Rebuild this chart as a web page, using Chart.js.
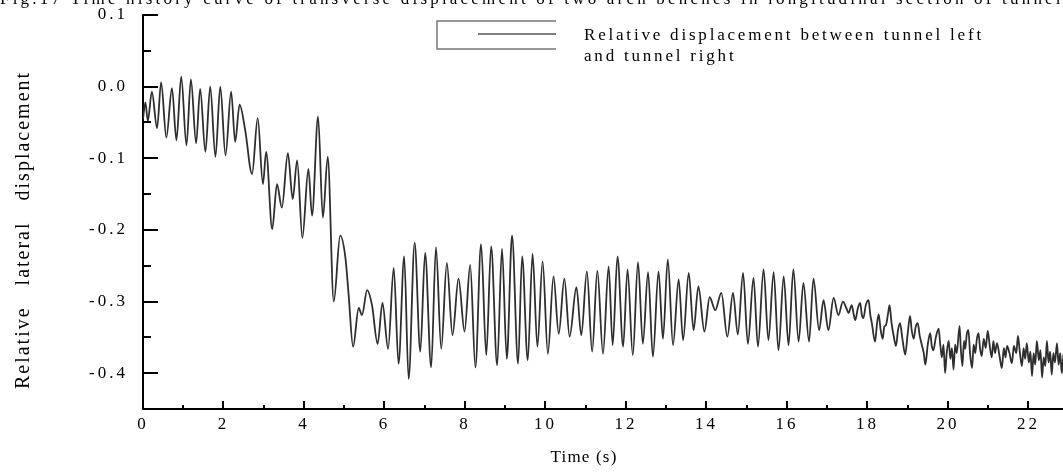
<!DOCTYPE html>
<html>
<head>
<meta charset="utf-8">
<script src="https://cdn.jsdelivr.net/npm/chart.js@4/dist/chart.umd.min.js"></script>
<style>
  body { margin: 0; background: #fff; }
  #wrap { width: 1063px; height: 473px; }
</style>
</head>
<body>
<div id="wrap"><canvas id="dispChart" width="1063" height="473"></canvas></div>
<script>
// time (s) and relative lateral displacement
const timeS = [
  0, 0.06, 0.12, 0.22, 0.35, 0.45, 0.58, 0.72, 0.83, 0.95, 1.08, 1.19, 1.32, 1.42, 1.55, 1.67, 1.80, 1.92,
  2.05, 2.19, 2.29, 2.40, 2.54, 2.71, 2.85, 2.98, 3.06, 3.21, 3.33, 3.45, 3.60, 3.72, 3.83, 3.96, 4.11, 4.20,
  4.35, 4.47, 4.59, 4.74, 4.90, 5.03, 5.11, 5.22, 5.36, 5.44, 5.57, 5.69, 5.83,
  5.95, 6.09, 6.23, 6.35, 6.49, 6.60, 6.75, 6.89, 7.01, 7.16, 7.28, 7.41, 7.55, 7.69, 7.84, 7.99, 8.13, 8.26,
  8.40, 8.53, 8.65, 8.80, 8.92, 9.04, 9.17, 9.32, 9.42, 9.56, 9.68, 9.80, 9.93, 10.06, 10.20, 10.33, 10.47,
  10.60, 10.77, 10.89, 11.03, 11.16, 11.29, 11.43, 11.57, 11.67,
  11.79, 11.93, 12.04, 12.17, 12.30, 12.42, 12.55, 12.67, 12.81, 12.92, 13.04, 13.17, 13.31, 13.42, 13.56,
  13.68, 13.80, 13.95, 14.08, 14.22, 14.37, 14.52, 14.66, 14.78, 14.91, 15.03, 15.17, 15.28, 15.42, 15.54,
  15.67, 15.79, 15.92, 16.04, 16.16, 16.29, 16.41, 16.55, 16.66, 16.80, 16.91, 17.03, 17.16, 17.28, 17.39, 17.49,
  17.53, 17.61, 17.66, 17.70, 17.76, 17.82, 17.86, 17.90, 17.96, 18.03, 18.07, 18.11, 18.19, 18.24, 18.28,
  18.33, 18.38, 18.42, 18.46, 18.51, 18.55, 18.60, 18.65, 18.71, 18.76, 18.81, 18.87, 18.94, 19.00, 19.06,
  19.10, 19.15, 19.20, 19.25, 19.30, 19.35, 19.40, 19.44, 19.50, 19.56, 19.60, 19.64, 19.70, 19.77, 19.81,
  19.85, 19.89, 19.93, 19.97, 20.02, 20.06, 20.10, 20.14, 20.18, 20.22, 20.29, 20.32, 20.36, 20.40, 20.43,
  20.47, 20.51, 20.55, 20.60, 20.64, 20.68, 20.72, 20.76, 20.80, 20.84, 20.89, 20.94, 20.99, 21.04, 21.09,
  21.13, 21.17, 21.22, 21.28, 21.34, 21.39, 21.43, 21.47, 21.53, 21.59, 21.64, 21.70, 21.74, 21.79, 21.84,
  21.88, 21.92, 21.96, 22.01, 22.05, 22.09, 22.13, 22.17, 22.21, 22.26, 22.30, 22.34, 22.38, 22.42, 22.46,
  22.50, 22.54, 22.58, 22.62, 22.66, 22.71, 22.75, 22.79, 22.83, 22.88, 22.93
];
const relDisp = [
  -0.045, -0.022, -0.048, -0.007, -0.058, 0.006, -0.071, -0.002, -0.075, 0.014, -0.082, 0.010, -0.079, -0.003, -0.091, 0.000, -0.098, 0.000,
  -0.096, -0.007, -0.077, -0.025, -0.061, -0.122, -0.044, -0.136, -0.091, -0.199, -0.136, -0.169, -0.093, -0.157, -0.103, -0.211, -0.115, -0.180,
  -0.042, -0.183, -0.098, -0.300, -0.208, -0.239, -0.291, -0.363, -0.309, -0.319, -0.284, -0.305, -0.359,
  -0.302, -0.366, -0.253, -0.387, -0.237, -0.408, -0.218, -0.370, -0.232, -0.392, -0.224, -0.366, -0.246, -0.347, -0.268, -0.342, -0.249, -0.392,
  -0.220, -0.375, -0.223, -0.389, -0.226, -0.380, -0.208, -0.387, -0.237, -0.382, -0.233, -0.363, -0.244, -0.373, -0.265, -0.345, -0.268,
  -0.349, -0.280, -0.347, -0.258, -0.370, -0.257, -0.373, -0.251, -0.361,
  -0.237, -0.363, -0.255, -0.375, -0.245, -0.359, -0.259, -0.377, -0.258, -0.352, -0.241, -0.361, -0.269, -0.354, -0.260,
  -0.340, -0.279, -0.342, -0.294, -0.312, -0.288, -0.349, -0.288, -0.346, -0.260, -0.359, -0.267, -0.363, -0.255, -0.354,
  -0.259, -0.368, -0.265, -0.361, -0.255, -0.356, -0.274, -0.356, -0.268, -0.340, -0.298, -0.340, -0.295, -0.319, -0.300, -0.311,
  -0.316, -0.305, -0.318, -0.326, -0.310, -0.302, -0.318, -0.323, -0.305, -0.298, -0.318, -0.330, -0.356, -0.330, -0.318,
  -0.340, -0.352, -0.335, -0.333, -0.318, -0.305, -0.330, -0.347, -0.362, -0.340, -0.330, -0.352, -0.374, -0.345, -0.320,
  -0.340, -0.352, -0.335, -0.330, -0.348, -0.360, -0.372, -0.388, -0.360, -0.344, -0.362, -0.368, -0.350, -0.338, -0.360,
  -0.378, -0.360, -0.400, -0.372, -0.355, -0.380, -0.365, -0.395, -0.360, -0.372, -0.334, -0.365, -0.390, -0.355, -0.366,
  -0.345, -0.340, -0.372, -0.393, -0.360, -0.372, -0.352, -0.344, -0.366, -0.376, -0.352, -0.365, -0.341, -0.362, -0.378,
  -0.355, -0.372, -0.358, -0.375, -0.393, -0.365, -0.378, -0.362, -0.372, -0.386, -0.362, -0.372, -0.348, -0.372, -0.390,
  -0.365, -0.380, -0.358, -0.385, -0.370, -0.404, -0.372, -0.388, -0.355, -0.382, -0.368, -0.406, -0.378, -0.390, -0.355,
  -0.385, -0.370, -0.402, -0.372, -0.385, -0.358, -0.388, -0.372, -0.400, -0.370, -0.390
];

const xTicks = [0, 2, 4, 6, 8, 10, 12, 14, 16, 18, 20, 22];
const xMinorTicks = [1, 3, 5, 7, 9, 11, 13, 15, 17, 19, 21];
const yTicks = [0.1, 0.0, -0.1, -0.2, -0.3, -0.4];
const yMinorTicks = [0.05, -0.05, -0.15, -0.25, -0.35];

const seriesLabel = ['Relative displacement between tunnel left', 'and tunnel right'];
const figCaption = 'Fig.17 Time history curve of transverse displacement of two arch benches in longitudinal section of tunnel';
const serif = "'Liberation Serif', 'Times New Roman', serif";

// inward tick marks, legend box and free texts
const paperBits = {
  id: 'paperBits',
  beforeDraw(chart) {
    chart.ctx.letterSpacing = '3px';
  },
  afterDatasetsDraw(chart) {
    const { ctx, chartArea: a, scales: { x, y } } = chart;
    ctx.save();
    ctx.strokeStyle = '#000';
    ctx.lineWidth = 2;
    ctx.beginPath();
    yTicks.forEach(v => {
      const py = Math.round(y.getPixelForValue(v));
      ctx.moveTo(a.left, py); ctx.lineTo(a.left + 15, py);
    });
    yMinorTicks.forEach(v => {
      const py = Math.round(y.getPixelForValue(v));
      ctx.moveTo(a.left, py); ctx.lineTo(a.left + 8, py);
    });
    xTicks.forEach(v => {
      const px = Math.round(x.getPixelForValue(v));
      ctx.moveTo(px, a.bottom); ctx.lineTo(px, a.bottom - 8);
    });
    xMinorTicks.forEach(v => {
      const px = Math.round(x.getPixelForValue(v));
      ctx.moveTo(px, a.bottom); ctx.lineTo(px, a.bottom - 4);
    });
    ctx.stroke();
    ctx.restore();
  },
  afterDraw(chart) {
    const ctx = chart.ctx;
    ctx.save();
    ctx.fillStyle = '#000';

    // caption, mostly cut off at the top
    ctx.font = '17px ' + serif;
    ctx.letterSpacing = '3.2px';
    ctx.textAlign = 'left';
    ctx.textBaseline = 'alphabetic';
    ctx.fillText(figCaption, 0, 4);

    // legend
    ctx.strokeStyle = '#777';
    ctx.lineWidth = 1.5;
    ctx.beginPath();
    ctx.moveTo(556, 21); ctx.lineTo(437, 21); ctx.lineTo(437, 49); ctx.lineTo(556, 49);
    ctx.stroke();
    ctx.strokeStyle = '#555';
    ctx.beginPath();
    ctx.moveTo(478, 34); ctx.lineTo(556, 34);
    ctx.stroke();
    ctx.font = '17px ' + serif;
    ctx.letterSpacing = '2.8px';
    ctx.fillText(seriesLabel[0], 584, 40);
    ctx.fillText(seriesLabel[1], 584, 61);

    // axis titles
    ctx.font = '17px ' + serif;
    ctx.letterSpacing = '1.2px';
    ctx.textAlign = 'center';
    ctx.textBaseline = 'middle';
    ctx.fillText('Time (s)', 584, 458);

    ctx.translate(24, 230);
    ctx.rotate(-Math.PI / 2);
    ctx.font = '20px ' + serif;
    ctx.letterSpacing = '2px';
    ctx.fillText('Relative   lateral   displacement', 0, 0);
    ctx.restore();
  }
};

const ctx = document.getElementById('dispChart').getContext('2d');
const dispChart = new Chart(ctx, {
  type: 'line',
  data: {
    datasets: [{
      label: seriesLabel.join(' '),
      data: timeS.map((t, i) => ({ x: t, y: relDisp[i] })),
      borderColor: '#2e2e2e',
      borderWidth: 1.8,
      pointRadius: 0,
      cubicInterpolationMode: 'monotone',
      fill: false
    }]
  },
  options: {
    responsive: false,
    animation: false,
    layout: { padding: { top: 15, right: 0, bottom: 0, left: 0 } },
    plugins: { legend: { display: false }, tooltip: { enabled: false } },
    scales: {
      x: {
        type: 'linear',
        min: 0,
        max: 22.86,
        grid: { display: false, drawTicks: false },
        border: { color: '#000', width: 2 },
        ticks: { color: '#000', padding: 5, font: { family: serif, size: 17 }, callback: v => String(v) },
        afterBuildTicks: s => { s.ticks = xTicks.map(v => ({ value: v })); },
        afterFit: s => { s.height = 64; s.paddingLeft = 0; s.paddingRight = 0; }
      },
      y: {
        min: -0.45,
        max: 0.1,
        grid: { display: false, drawTicks: false },
        border: { color: '#000', width: 2 },
        ticks: { color: '#000', padding: 15, font: { family: serif, size: 17 }, callback: v => v.toFixed(1) },
        afterBuildTicks: s => { s.ticks = yTicks.map(v => ({ value: v })); },
        afterFit: s => { s.width = 143; s.paddingTop = 0; s.paddingBottom = 0; }
      }
    }
  },
  plugins: [paperBits]
});
</script>
</body>
</html>
